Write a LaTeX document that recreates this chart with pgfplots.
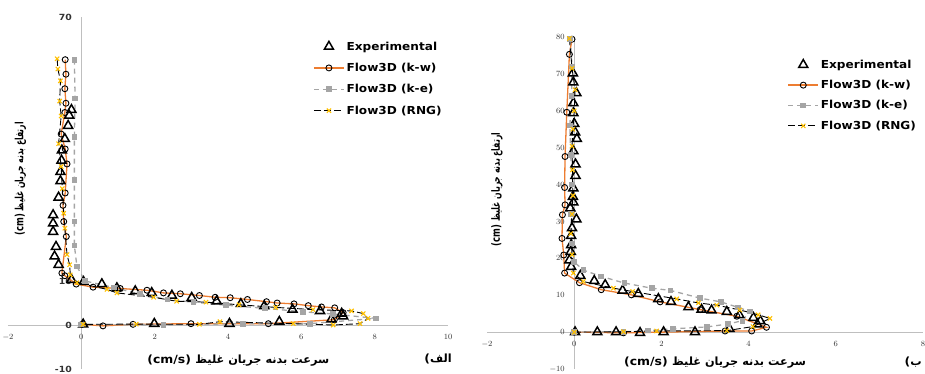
\documentclass[border=0pt]{standalone}
\usepackage{fontspec}
\usepackage{graphicx}
\setmainfont{DejaVu Sans}[FakeStretch=1.1]
\newfontfamily\arabicfont[Script=Arabic]{DejaVu Sans}
\TeXXeTstate=1
\usepackage{pgfplots}
\pgfplotsset{compat=1.18}
\definecolor{kwor}{HTML}{ED7D31}
\definecolor{kegr}{HTML}{A5A5A5}
\definecolor{rngy}{HTML}{FFC000}
\definecolor{axg}{HTML}{BFBFBF}
\definecolor{tickc}{HTML}{333333}
\tikzset{lab/.style={font=\bfseries\fontsize{11.3}{13}\selectfont}}
\pgfplotsset{
 common/.style={scale only axis, axis lines=middle, axis line style={axg,line width=0.7pt,-},
   major tick length=0pt, tick style={draw=none},
   tick label style={font=\bfseries\fontsize{8.5}{9}\selectfont, text=tickc},
   xticklabel style={yshift=-6pt}, yticklabel style={xshift=-6pt},
   hide obscured x ticks=false, hide obscured y ticks=false, clip=false,
   legend cell align=left,
   legend style={draw=none, fill=none, font=\bfseries\fontsize{11}{13}\selectfont, inner sep=0pt},
   legend image code/.code={\draw[mark repeat=2,mark phase=2,##1] plot coordinates {(0pt,0pt) (15pt,0pt) (30pt,0pt)};}},
 exp/.style={only marks, mark=triangle, mark size=5.2pt, mark options={draw=black, fill=white, line width=1.5pt},
   legend image code/.code={\draw[##1] plot coordinates {(15pt,0pt)};}},
 kw/.style={kwor, line width=1.3pt, mark=o, mark size=3pt, mark options={draw=black, fill=white, line width=0.9pt, solid}},
 ke/.style={kegr, line width=1.3pt, dash pattern=on 5pt off 4pt, mark=square*, mark size=2.2pt, mark options={fill=kegr, draw=kegr, solid}},
 rng/.style={black, line width=0.9pt, dash pattern=on 7pt off 3pt, mark=x, mark size=3pt, mark options={draw=rngy, line width=1.1pt, solid}},
}
\begin{document}
\begin{tikzpicture}
\useasboundingbox (0,0) rectangle (925pt,374pt);
% ---------------- left chart ----------------
\begin{axis}[common, at={(8pt,5pt)}, anchor=south west, width=440pt, height=352pt,
  xmin=-2, xmax=10, ymin=-10, ymax=70,
  xtick={-2,0,2,4,6,8,10}, ytick={-10,0,10,20,30,40,50,60,70},
  yticklabels={-10,0,10,,,,,,70},
  legend style={at={(axis cs:6.32,64.9)}, anchor=north west, row sep=7.5pt}]
\addplot[exp] coordinates {(-0.27,48.9)(-0.33,47.6)(-0.36,45.3)(-0.45,42.3)(-0.53,39.7)(-0.54,37.4)(-0.57,34.8)(-0.57,32.7)(-0.62,29.0)(-0.77,25.0)(-0.77,23.1)(-0.77,21.2)(-0.69,17.8)(-0.73,15.6)(-0.62,13.7)(-0.27,10.3)(0.06,9.8)(0.56,9.3)(0.97,8.4)(1.47,7.7)(1.92,7.3)(2.47,6.7)(3.01,6.2)(3.69,5.4)(4.35,4.8)(4.99,4.3)(5.76,3.5)(6.51,3.2)(7.10,2.6)(7.14,2.0)(6.82,1.3)(5.40,0.75)(4.04,0.3)(1.99,0.3)(0.05,0.15)};
\addlegendentry{Experimental}
\addplot[kw] coordinates {(-0.44,60.3)(-0.42,57.0)(-0.45,53.7)(-0.42,50.4)(-0.45,48.3)(-0.55,43.4)(-0.44,40.0)(-0.39,36.6)(-0.44,30.0)(-0.50,27.2)(-0.48,23.5)(-0.41,20.1)(-0.53,11.8)(-0.45,11.2)(-0.14,9.3)(0.32,8.6)(1.06,8.3)(1.79,7.9)(2.24,7.3)(2.70,7.1)(3.22,6.7)(3.65,6.3)(4.06,6.2)(4.53,5.8)(5.05,5.3)(5.34,5.0)(5.80,4.8)(6.19,4.4)(6.55,4.1)(6.91,3.9)(7.14,2.8)(6.9,1.2)(5.10,0.3)(2.99,0.3)(1.41,0.15)(0.59,-0.2)(0.02,0.15)};
\addlegendentry{Flow3D (k-w)}
\addplot[ke] coordinates {(-0.19,60.3)(-0.17,51.5)(-0.19,42.7)(-0.19,33.0)(-0.19,23.5)(-0.19,18.1)(-0.12,13.3)(0.1,10.0)(0.9,8.5)(1.6,7.0)(2.35,5.8)(3.06,5.2)(3.95,4.5)(5.0,3.8)(6.05,3.0)(6.87,2.5)(8.03,1.5)(6.23,0.3)(4.4,0.3)(2.24,0)(0.0,0.1)};
\addlegendentry{Flow3D (k-e)}
\addplot[rng] coordinates {(-0.66,60.5)(-0.64,58.2)(-0.57,55.5)(-0.59,50.9)(-0.55,47.5)(-0.62,41.2)(-0.55,36)(-0.52,31)(-0.48,25.4)(-0.45,22.0)(-0.39,16.0)(-0.32,13.7)(-0.30,11.4)(-0.12,9.6)(0.70,8.1)(0.97,7.3)(1.97,6.3)(2.60,5.4)(3.4,5.2)(4.3,4.6)(5.3,4.0)(6.32,3.5)(7.37,3.2)(7.69,2.6)(7.82,1.5)(7.60,0.3)(6.87,0)(5.78,0.3)(3.78,0.75)(3.22,0.15)(1.5,0.2)(0.05,0.15)};
\addlegendentry{Flow3D (RNG)}
\node[lab] at (axis cs:4.28,-8.0) {(cm/s) {\arabicfont\beginR سرعت بدنه جریان غلیظ\endR}};
\node[lab] at (axis cs:9.73,-7.8) {({\arabicfont\beginR الف\endR}};
\node[lab, rotate=90] at (axis cs:-1.66,33.2) {\scalebox{0.68}[1]{(cm) {\arabicfont\beginR ارتفاع بدنه جریان غلیظ\endR}}};
\end{axis}
% ---------------- right chart ----------------
\begin{axis}[common, at={(487pt,5pt)}, anchor=south west, width=436pt, height=332pt,
  xmin=-2, xmax=8, ymin=-10, ymax=80,
  xtick={-2,0,2,4,6,8}, ytick={-10,0,10,20,30,40,50,60,70,80},
  legend style={at={(axis cs:4.89,74.4)}, anchor=north west, row sep=6.5pt}]
\addplot[exp] coordinates {(-0.03,70.2)(-0.02,67.7)(0.05,64.8)(-0.02,62.1)(-0.02,59.4)(0,56.5)(0.02,54.2)(0.06,52.4)(-0.02,49.1)(0.03,45.5)(0.03,42.4)(-0.02,39.0)(-0.03,36.7)(-0.02,35.2)(-0.09,33.6)(0.05,30.6)(-0.05,28.2)(-0.07,26.1)(-0.07,23.6)(-0.08,21.8)(-0.11,19.5)(-0.07,17.7)(0.14,15.3)(0.46,13.9)(0.71,12.8)(1.11,11.3)(1.47,10.4)(1.93,9.0)(2.22,8.2)(2.62,6.8)(2.92,6.1)(3.15,5.9)(3.50,5.5)(3.79,4.6)(4.11,3.9)(4.27,3.0)(4.20,2.1)(3.56,0.9)(2.77,0)(2.05,0)(1.51,-0.2)(0.96,0)(0.53,0)(0.02,0)};
\addlegendentry{Experimental}
\addplot[kw] coordinates {(-0.05,79.4)(-0.11,75.3)(-0.17,59.6)(-0.21,47.6)(-0.22,39.2)(-0.21,34.5)(-0.27,31.8)(-0.28,25.4)(-0.24,20.9)(-0.22,16.0)(0.12,13.4)(0.62,11.5)(1.31,10.1)(1.97,8.2)(2.89,6.1)(3.73,4.3)(4.41,1.3)(4.07,0.3)(3.46,0.3)(1.13,-0.2)(0,0)};
\addlegendentry{Flow3D (k-w)}
\addplot[ke] coordinates {(-0.09,79.4)(-0.05,72)(-0.06,64)(-0.1,56)(-0.08,48)(-0.05,40)(-0.07,32)(-0.05,24)(0.0,19)(0.21,16.8)(0.62,15.1)(1.15,13.3)(1.78,11.9)(2.21,11.3)(2.89,9.2)(3.36,8.2)(3.76,6.7)(4.03,5.6)(3.86,3.1)(3.53,2.2)(3.04,1.4)(2.27,0.9)(1.70,0.4)(1.13,0.1)(0,0)};
\addlegendentry{Flow3D (k-e)}
\addplot[rng] coordinates {(-0.11,79.6)(-0.05,71.5)(0.02,65.7)(0.0,60)(-0.03,55)(-0.05,50.4)(-0.04,44)(-0.03,37.0)(-0.05,32)(-0.08,26.7)(-0.05,21)(-0.02,16)(0.21,13.7)(0.90,11.9)(1.34,11.0)(2.35,9.0)(2.85,7.9)(3.27,7.3)(3.8,6.0)(4.22,4.7)(4.49,3.7)(4.1,1.5)(3.50,0.4)(1.89,0.3)(1.13,0.1)(0,0)};
\addlegendentry{Flow3D (RNG)}
\node[lab] at (axis cs:3.23,-8.2) {(cm/s) {\arabicfont\beginR سرعت بدنه جریان غلیظ\endR}};
\node[lab, anchor=east] at (axis cs:8.05,-8.1) {({\arabicfont\beginR ب\endR}};
\node[lab, rotate=90] at (axis cs:-1.77,38.7) {\scalebox{0.68}[1]{(cm) {\arabicfont\beginR ارتفاع بدنه جریان غلیظ\endR}}};
\end{axis}
\end{tikzpicture}
\end{document}
